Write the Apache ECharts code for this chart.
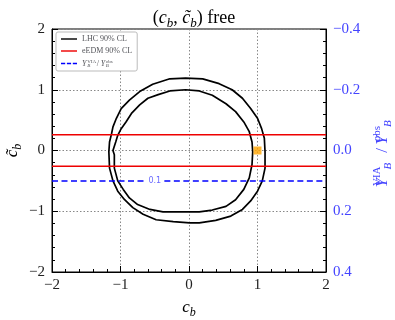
<!DOCTYPE html>
<html><head><meta charset="utf-8">
<script src="https://cdn.jsdelivr.net/npm/echarts@6/dist/echarts.min.js"></script>
<style>html,body{margin:0;padding:0;background:#fff}#c{width:395px;height:320px}</style>
</head><body><div id="c"></div>
<script>
// ---- data ----
const xRange = [-2, 2];
const yRange = [-2, 2];
const rightRange = [-0.4, 0.4];
const lhcOuter = [
  [1.11,-0.02],[1.10,0.20],[1.06,0.36],[1.00,0.53],[0.90,0.69],[0.78,0.86],[0.63,1.00],[0.44,1.10],[0.20,1.18],[-0.05,1.19],
  [-0.28,1.18],[-0.53,1.09],[-0.72,0.97],[-0.87,0.83],[-0.99,0.69],[-1.06,0.53],[-1.11,0.39],[-1.13,0.28],[-1.16,0.14],[-1.17,-0.02],
  [-1.16,-0.29],[-1.11,-0.50],[-1.04,-0.67],[-0.94,-0.81],[-0.82,-0.94],[-0.67,-1.05],[-0.48,-1.14],[-0.23,-1.17],[0.01,-1.19],
  [0.15,-1.19],[0.39,-1.15],[0.61,-1.08],[0.78,-0.97],[0.90,-0.83],[1.00,-0.67],[1.07,-0.50],[1.11,-0.29],[1.11,-0.02]
];
const lhcInner = [
  [0.93,-0.02],[0.92,0.14],[0.88,0.31],[0.80,0.47],[0.68,0.64],[0.54,0.77],[0.34,0.91],[0.15,0.98],[-0.05,1.00],
  [-0.28,0.98],[-0.45,0.92],[-0.60,0.86],[-0.72,0.75],[-0.84,0.61],[-0.92,0.47],[-0.99,0.36],[-1.04,0.25],[-1.07,0.14],[-1.09,0.07],[-1.11,0.00],
  [-1.09,-0.07],[-1.09,-0.29],[-1.04,-0.50],[-0.96,-0.64],[-0.87,-0.78],[-0.75,-0.89],[-0.57,-0.97],[-0.38,-1.01],[-0.18,-1.01],[0.01,-1.01],
  [0.15,-1.01],[0.34,-0.98],[0.54,-0.92],[0.68,-0.81],[0.80,-0.64],[0.88,-0.45],[0.92,-0.23],[0.93,-0.02]
];
const eedmLevels = [0.26, -0.26];
const ybLevel = 0.1;            // right-axis value of the dashed contour
const ybGap = [-0.62, -0.36];   // gap in the dashed line for its label
const ybLabelX = -0.50;
const ybLabelText = '0.1';
const bestFit = [[1.0, 0.0]];
const seriesNames = ['LHC 90% CL', 'eEDM 90% CL', 'YB'];

const SERIF = 'Liberation Serif';
const BLUE = '#0000ff';
const BLUE_TXT = '#4444ff';
const RED = '#ee0000';
const minus = s => String(s).replace('-', '\u2212');

const chart = echarts.init(document.getElementById('c'), null, {renderer: 'canvas'});

const mathRich = (size, color) => ({
  n: {fontFamily: SERIF, fontWeight: 'normal', fontSize: size, color: color, lineHeight: size + 6},
  i: {fontFamily: SERIF, fontWeight: 'normal', fontStyle: 'italic', fontSize: size, color: color, lineHeight: size + 6},
  s: {fontFamily: SERIF, fontWeight: 'normal', fontStyle: 'italic', fontSize: Math.round(size * 0.7), color: color, verticalAlign: 'bottom', lineHeight: Math.round(size * 0.7)}
});

const lineBase = {type: 'line', symbol: 'none', showSymbol: false, animation: false, silent: true};
const solidIcon = 'path://M0,0h18v1.6h-18z';
const dashIcon = 'path://M0,0h5v1.6h-5z M7,0h5v1.6h-5z M14,0h5v1.6h-5z';
const ybRichText = '{i|Y}{h| }{sup|VIA}{sub|B}{n|\u2009/\u2009}{i|Y}{h| }{sup|obs}{sub|B}';

chart.setOption({
  animation: false,
  backgroundColor: '#fff',
  title: {
    text: '{n|(}{i|c}{s|b}{n|, }{i|c\u0303}{s|b}{n|) free}',
    left: 189, top: 1, textAlign: 'center',
    textStyle: {fontWeight: 'normal', rich: mathRich(18, '#000')}
  },
  grid: {left: 52, right: 69, top: 29, bottom: 48, outerBoundsMode: 'none', containLabel: false,
    show: true, borderColor: '#000', borderWidth: 1, backgroundColor: 'transparent'},
  legend: {
    data: [
      {name: seriesNames[0], icon: solidIcon, itemStyle: {color: '#000'}},
      {name: seriesNames[1], icon: solidIcon, itemStyle: {color: RED}},
      {name: seriesNames[2], icon: dashIcon, itemStyle: {color: BLUE}}
    ],
    orient: 'vertical', left: 56, top: 32,
    itemWidth: 16, itemHeight: 2, itemGap: 4,
    padding: [3, 5, 3, 5],
    borderColor: '#bbb', borderWidth: 1, borderRadius: 2, backgroundColor: '#fff',
    formatter: name => name === 'YB' ? ybRichText : '{n|' + name + '}',
    textStyle: {
      fontFamily: SERIF, fontSize: 8,
      rich: {
        n: {fontFamily: SERIF, fontSize: 8, lineHeight: 9},
        i: {fontFamily: SERIF, fontStyle: 'italic', fontSize: 8, lineHeight: 9},
        h: {fontFamily: SERIF, fontSize: 3, lineHeight: 3},
        sup: {fontFamily: SERIF, fontSize: 5, verticalAlign: 'top', lineHeight: 5, width: 0.01},
        sub: {fontFamily: SERIF, fontStyle: 'italic', fontSize: 5, verticalAlign: 'bottom', lineHeight: 5, width: 8}
      }
    }
  },
  xAxis: {
    type: 'value', min: xRange[0], max: xRange[1], interval: 1,
    name: '{i|c}{s|b}', nameLocation: 'middle', nameGap: 24, nameMoveOverlap: false,
    nameTextStyle: {rich: mathRich(17, '#000')},
    axisLine: {show: true, onZero: false, lineStyle: {color: '#000', width: 1}},
    axisTick: {show: true, inside: true, length: 6, lineStyle: {color: '#000'}},
    minorTick: {show: true, splitNumber: 5, length: 3, lineStyle: {color: '#000'}},
    splitLine: {show: true, lineStyle: {type: [1.5, 2], color: '#888', width: 1}},
    axisLabel: {formatter: v => minus(v), fontFamily: SERIF, fontSize: 15, color: '#222', margin: 6}
  },
  yAxis: [{
    type: 'value', min: yRange[0], max: yRange[1], interval: 1, position: 'left',
    name: '{i|c\u0303}{s|b}', nameLocation: 'middle', nameGap: 28, nameRotate: 90, nameMoveOverlap: false,
    nameTextStyle: {rich: mathRich(17, '#000')},
    axisLine: {show: true, onZero: false, lineStyle: {color: '#000', width: 1}},
    axisTick: {show: true, inside: true, length: 6, lineStyle: {color: '#000'}},
    minorTick: {show: true, splitNumber: 5, length: 3, lineStyle: {color: '#000'}},
    splitLine: {show: true, lineStyle: {type: [1.5, 2], color: '#888', width: 1}},
    axisLabel: {formatter: v => minus(v), fontFamily: SERIF, fontSize: 15, color: '#222', margin: 7}
  }, {
    type: 'value', min: rightRange[0], max: rightRange[1], interval: 0.2, position: 'right', inverse: true,
    name: ybRichText, nameLocation: 'middle', nameGap: 46, nameRotate: 90,
    nameTextStyle: {rich: {
      n: {fontFamily: SERIF, fontSize: 17, color: BLUE_TXT, lineHeight: 22},
      i: {fontFamily: SERIF, fontStyle: 'italic', fontSize: 17, color: BLUE_TXT, lineHeight: 22},
      h: {fontFamily: SERIF, fontSize: 7, lineHeight: 7},
      sup: {fontFamily: SERIF, fontSize: 11, color: BLUE_TXT, verticalAlign: 'top', lineHeight: 11, width: 0.01},
      sub: {fontFamily: SERIF, fontStyle: 'italic', fontSize: 11, color: BLUE_TXT, verticalAlign: 'bottom', lineHeight: 11, width: 20}
    }},
    axisLine: {show: true, onZero: false, lineStyle: {color: '#000', width: 1}},
    axisTick: {show: true, inside: true, length: 6, lineStyle: {color: '#000'}},
    minorTick: {show: true, splitNumber: 5, length: 3, lineStyle: {color: '#000'}},
    splitLine: {show: false},
    axisLabel: {formatter: v => minus(v.toFixed(1)), fontFamily: SERIF, fontSize: 15, color: BLUE_TXT, margin: 7}
  }],
  series: [
    Object.assign({}, lineBase, {name: seriesNames[0], data: lhcOuter, lineStyle: {color: '#000', width: 1.7}, itemStyle: {color: '#000'}, z: 3}),
    Object.assign({}, lineBase, {name: seriesNames[0], data: lhcInner, lineStyle: {color: '#000', width: 1.7}, itemStyle: {color: '#000'}, z: 3}),
    Object.assign({}, lineBase, {name: seriesNames[1], data: [[xRange[0], eedmLevels[0]], [xRange[1], eedmLevels[0]]], lineStyle: {color: RED, width: 1.5}, itemStyle: {color: RED}, z: 4}),
    Object.assign({}, lineBase, {name: seriesNames[1], data: [[xRange[0], eedmLevels[1]], [xRange[1], eedmLevels[1]]], lineStyle: {color: RED, width: 1.5}, itemStyle: {color: RED}, z: 4}),
    Object.assign({}, lineBase, {name: seriesNames[2], yAxisIndex: 1, data: [[xRange[0], ybLevel], [ybGap[0], ybLevel]], lineStyle: {color: BLUE, width: 1.5, type: [6, 3.5]}, itemStyle: {color: BLUE}, z: 4}),
    Object.assign({}, lineBase, {name: seriesNames[2], yAxisIndex: 1, data: [[ybGap[1], ybLevel], [xRange[1], ybLevel]], lineStyle: {color: BLUE, width: 1.5, type: [6, 3.5]}, itemStyle: {color: BLUE}, z: 4}),
    {type: 'scatter', name: 'ybLabel', yAxisIndex: 1, data: [[ybLabelX, ybLevel]], symbolSize: 1, itemStyle: {color: 'rgba(0,0,0,0)'}, silent: true,
      label: {show: true, position: 'inside', formatter: ybLabelText, color: BLUE_TXT, fontFamily: 'DejaVu Sans', fontSize: 8}},
    {type: 'scatter', name: 'best', data: bestFit, symbol: 'rect', symbolSize: 8, itemStyle: {color: '#ffa500'}, z: 6, silent: true}
  ]
});
</script>
</body></html>
